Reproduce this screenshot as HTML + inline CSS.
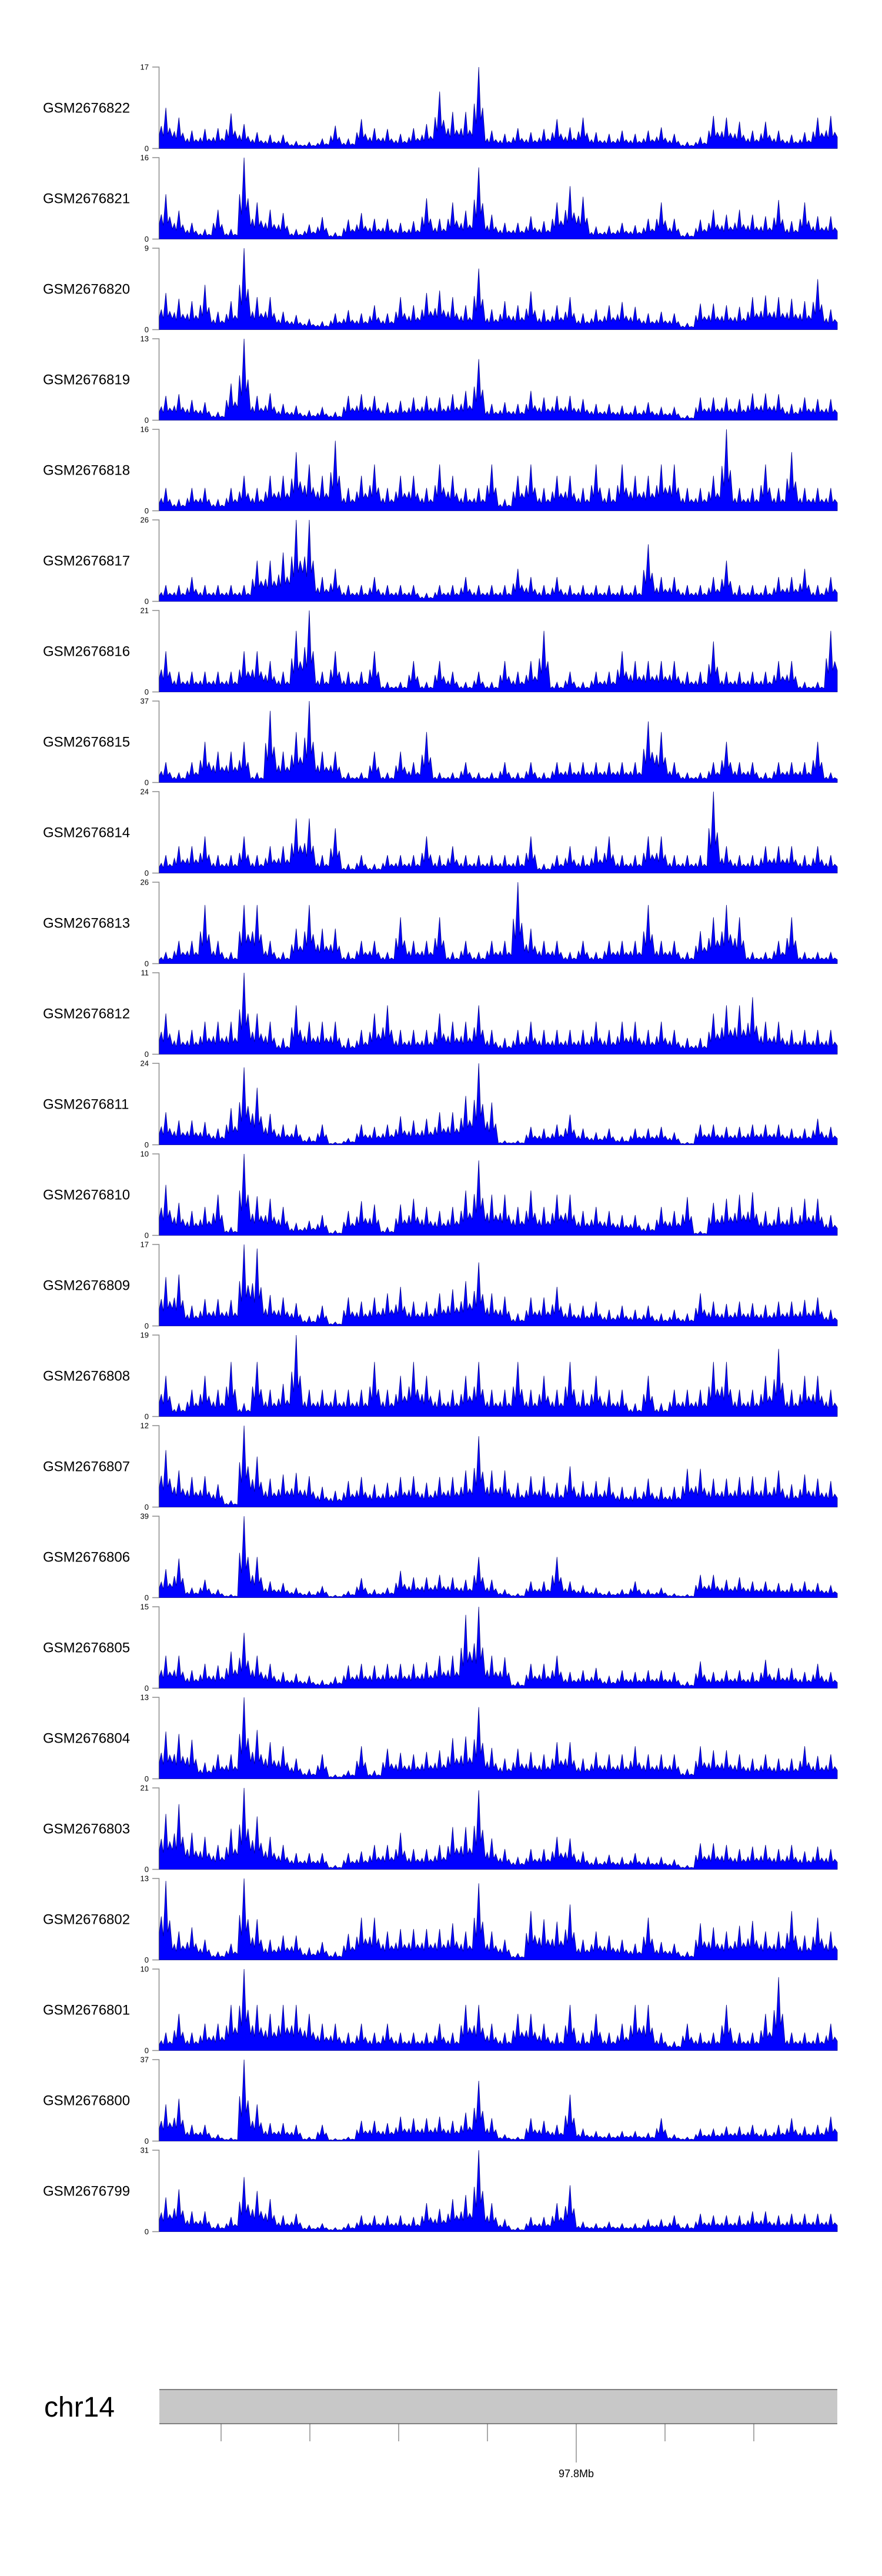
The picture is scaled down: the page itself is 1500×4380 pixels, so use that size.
<!DOCTYPE html>
<html><head><meta charset="utf-8"><style>
html,body{margin:0;padding:0;background:#fff;}
svg{display:block;font-family:"Liberation Sans",sans-serif;}
</style></head><body>
<svg id="chart" width="1500" height="4380" viewBox="0 0 1500 4380" xmlns="http://www.w3.org/2000/svg">
<g id="tracks"></g>
<g id="ideogram">
  <text x="75" y="4109" font-size="48" fill="#000">chr14</text>
  <rect x="271" y="4063" width="1153" height="58" fill="#c8c8c8"/>
  <line x1="271" y1="4063" x2="1424" y2="4063" stroke="#808080" stroke-width="2"/>
  <line x1="271" y1="4121" x2="1424" y2="4121" stroke="#808080" stroke-width="2"/>
  <g id="gticks"></g>
  <text x="980" y="4212" font-size="18" text-anchor="middle" fill="#000">97.8Mb</text>
</g>
</svg>
<script>
const sampleNames = ["GSM2676822","GSM2676821","GSM2676820","GSM2676819","GSM2676818","GSM2676817","GSM2676816","GSM2676815","GSM2676814","GSM2676813","GSM2676812","GSM2676811","GSM2676810","GSM2676809","GSM2676808","GSM2676807","GSM2676806","GSM2676805","GSM2676804","GSM2676803","GSM2676802","GSM2676801","GSM2676800","GSM2676799"];
const yMaxLabels = [17,16,9,13,16,26,21,37,24,26,11,24,10,17,19,12,39,15,13,21,13,10,37,31];
const cov822 = [50,38,22,24,25,43,30,20,17,17,9,8,12,28,12,36,25,24,18,25,30,70,45,45,100,22,18,25,20,24,36,26,38,20,18,22,18,22,26,18,8,14,40,38,33,22,33,22,17,20,38,40];
const cov821 = [55,35,20,12,36,12,100,45,36,32,12,18,27,8,24,32,25,25,20,22,50,25,45,35,88,30,20,20,28,22,45,65,52,15,16,20,17,25,45,25,8,24,36,30,36,30,28,48,22,45,28,28];
const cov820 = [45,38,35,55,22,35,100,40,40,22,18,13,10,20,24,20,30,20,40,30,45,48,40,30,75,25,35,30,47,25,30,40,20,25,30,34,28,20,22,20,8,32,32,30,28,40,42,40,38,35,62,25];
const cov819 = [30,32,25,22,10,45,100,30,33,20,18,12,16,10,30,32,30,22,24,28,30,28,32,36,75,20,22,20,36,28,30,30,26,20,20,18,18,22,16,16,6,28,28,28,26,33,33,32,20,28,26,26];
const cov818 = [28,14,28,28,14,28,43,28,43,43,72,57,43,86,28,43,57,28,43,43,28,57,43,28,28,57,14,43,57,28,43,43,28,57,28,57,43,43,57,57,28,28,43,100,28,28,57,28,72,28,28,28];
const cov817 = [20,20,30,20,20,20,20,50,50,60,100,100,30,40,20,20,30,20,20,20,10,20,20,30,20,20,20,40,30,20,30,20,20,20,20,20,20,70,30,30,20,20,30,50,20,20,20,30,30,40,20,30];
const cov816 = [50,25,25,25,25,25,50,50,38,25,75,100,25,50,25,25,50,12,12,38,12,38,25,12,25,12,38,25,38,75,12,25,12,25,25,50,38,38,38,38,25,25,62,25,25,25,25,38,38,12,12,75];
const cov815 = [25,12,25,50,38,38,50,12,88,38,62,100,38,38,12,12,38,12,38,25,62,12,12,25,12,12,25,12,25,12,25,25,25,25,25,25,25,75,62,25,12,12,25,50,25,25,12,25,25,25,50,12];
const cov814 = [22,33,33,45,22,22,45,22,33,33,67,67,22,55,11,22,11,22,22,22,45,22,33,22,22,22,22,22,45,11,22,33,22,33,45,22,22,45,45,22,22,22,100,33,22,22,33,33,33,22,33,22];
const cov813 = [14,28,28,72,28,14,72,72,28,14,43,72,43,43,14,28,28,14,57,28,28,57,14,28,14,28,28,100,43,28,28,14,28,14,28,28,28,72,28,28,14,40,57,72,57,14,14,28,57,14,14,14];
const cov812 = [50,30,30,40,40,40,100,50,40,20,60,40,40,40,20,30,50,60,30,30,30,50,40,40,60,30,20,30,40,30,30,30,30,40,30,40,40,30,40,30,20,20,50,60,60,70,40,40,30,30,30,30];
const cov811 = [40,30,30,28,20,45,95,70,38,25,25,10,25,3,8,25,22,25,35,30,32,40,40,60,100,52,5,5,22,20,25,37,20,15,20,10,20,20,22,15,3,25,25,22,22,25,25,25,20,20,32,22];
const cov810 = [62,40,30,35,50,10,100,48,45,35,15,18,25,6,30,42,38,10,38,45,35,30,35,55,92,50,50,35,55,35,50,50,30,35,30,25,25,15,35,30,47,5,40,45,50,53,30,35,35,45,45,25];
const cov809 = [60,63,25,33,33,32,100,95,38,35,28,12,25,5,35,30,35,40,48,30,30,40,45,55,78,40,36,15,35,35,48,28,25,30,20,25,20,25,15,20,15,40,30,27,30,28,26,30,30,32,35,20];
const cov808 = [50,16,33,50,33,67,16,67,33,40,100,33,33,33,33,33,67,33,50,67,50,33,33,50,67,33,33,67,33,50,33,67,33,50,33,33,16,50,16,33,33,33,67,67,33,33,50,83,33,50,50,33];
const cov807 = [70,45,37,38,28,8,100,62,35,40,42,38,25,20,32,37,28,30,37,38,30,37,37,45,87,45,45,30,38,38,30,50,32,32,37,25,25,35,25,25,47,47,35,35,37,38,37,45,28,40,35,32];
const cov806 = [35,48,12,22,10,4,100,50,20,18,12,8,14,3,8,24,10,12,33,25,25,28,25,22,50,22,10,5,20,20,50,20,15,12,8,10,20,10,12,5,4,28,28,22,25,20,20,18,18,20,18,15];
const cov805 = [40,40,22,30,28,45,68,40,30,20,18,15,10,14,28,30,28,30,30,30,32,40,40,90,100,40,38,8,30,30,40,20,22,25,15,22,20,22,22,20,8,33,20,22,22,20,35,25,25,20,30,20];
const cov804 = [58,55,48,20,30,30,100,60,45,40,25,12,30,5,10,40,10,37,32,30,33,35,50,52,88,38,25,37,33,30,45,45,25,33,30,30,40,30,30,30,12,40,35,35,30,25,30,25,25,40,28,30];
const cov803 = [68,80,45,40,30,50,100,65,40,30,20,20,20,5,20,22,30,30,45,25,25,30,52,52,97,38,25,15,25,25,40,38,22,15,18,15,20,15,15,12,5,32,32,30,25,28,30,25,30,22,28,25];
const cov802 = [97,35,40,25,10,20,100,50,25,30,30,15,22,10,32,52,52,35,38,38,38,38,45,35,94,35,25,8,60,50,47,68,25,35,30,25,20,52,22,20,10,45,40,35,42,48,35,35,60,30,52,35];
const cov801 = [22,45,22,33,33,56,100,56,45,56,56,45,33,33,22,33,22,33,22,22,22,33,22,56,56,33,22,45,45,33,22,56,22,45,22,33,56,56,22,11,33,22,22,56,22,22,45,90,22,22,22,33];
const cov800 = [45,52,20,20,8,4,100,45,22,22,20,5,20,3,5,25,25,22,30,28,28,30,25,35,74,28,8,5,28,25,20,57,15,12,10,12,12,10,28,8,5,15,15,18,18,20,15,20,28,18,20,30];
const cov799 = [42,52,25,25,10,18,67,50,40,20,22,8,10,5,10,20,20,20,20,18,35,28,40,45,100,35,15,5,18,18,35,57,12,10,12,10,10,15,15,20,10,22,20,20,20,25,25,20,22,22,22,22];
const coverage = [cov822,cov821,cov820,cov819,cov818,cov817,cov816,cov815,cov814,cov813,cov812,cov811,cov810,cov809,cov808,cov807,cov806,cov805,cov804,cov803,cov802,cov801,cov800,cov799];
const genomeTicks = [0,1,2,3,4,5,6];
const majorTickIndex = 4;

const NS = "http://www.w3.org/2000/svg";
const X0 = 271, X1 = 1424, TOP0 = 114, PITCH = 154, H = 138.5;
function xScale(i, n) { return X0 + (X1 - X0) * i / n; }
function yScale(pct, base) { return base - H * pct / 100; }
function mk(tag, attrs) { const e = document.createElementNS(NS, tag); for (const k in attrs) e.setAttribute(k, attrs[k]); return e; }

const tracks = document.getElementById('tracks');
sampleNames.forEach((name, t) => {
  const top = TOP0 + PITCH * t, base = top + H;
  const g = mk('g', {});
  
  
  const lab = mk('text', {x: 73, y: top + H / 2 + 8, 'font-size': 24, fill: '#000'});
  lab.textContent = name;
  
  
  g.appendChild(lab);
  const ax = mk('path', {d: `M259,${top}H270.5V${base}H259`, fill: 'none', stroke: '#8c8c8c', 'stroke-width': 1.5});
  
  
  g.appendChild(ax);
  const tMax = mk('text', {x: 253, y: top + 4.5, 'font-size': 13, 'text-anchor': 'end', fill: '#000'});
  tMax.textContent = yMaxLabels[t];
  
  
  g.appendChild(tMax);
  const tMin = mk('text', {x: 253, y: base + 4.5, 'font-size': 13, 'text-anchor': 'end', fill: '#000'});
  tMin.textContent = '0';
  
  
  g.appendChild(tMin);
  const vals = coverage[t], n = vals.length;
  let d = `M${X0},${base}`;
  for (let i = 0; i < n; i++) {
    const prev = i > 0 ? vals[i - 1] : vals[i];
    const valley = 0.35 * Math.min(prev, vals[i]);
    const v = vals[i];
    d += `L${xScale(i, n).toFixed(1)},${yScale(valley, base).toFixed(1)}`;
    d += `L${xScale(i + 0.15, n).toFixed(1)},${yScale(v * 0.55, base).toFixed(1)}`;
    d += `L${xScale(i + 0.3, n).toFixed(1)},${yScale(v * 0.3, base).toFixed(1)}`;
    d += `L${xScale(i + 0.5, n).toFixed(1)},${yScale(v, base).toFixed(1)}`;
    d += `L${xScale(i + 0.65, n).toFixed(1)},${yScale(v * 0.35, base).toFixed(1)}`;
    d += `L${xScale(i + 0.8, n).toFixed(1)},${yScale(v * 0.5, base).toFixed(1)}`;
  }
  d += `L${X1},${yScale(0.35 * vals[n - 1], base).toFixed(1)}L${X1},${base}Z`;
  const area = mk('path', {d: d, fill: '#0000ff', stroke: '#00008b', 'stroke-width': 0.8, 'stroke-linejoin': 'miter'});
  
  
  g.appendChild(area);
  tracks.appendChild(g);
});

const gt = document.getElementById('gticks');
genomeTicks.forEach((k, i) => {
  const x = 376 + 151 * k;
  const ln = mk('line', {x1: x, y1: 4121, x2: x, y2: i === majorTickIndex ? 4187 : 4151, stroke: '#555', 'stroke-width': 1});
  
  
  gt.appendChild(ln);
});
</script>
</body></html>
